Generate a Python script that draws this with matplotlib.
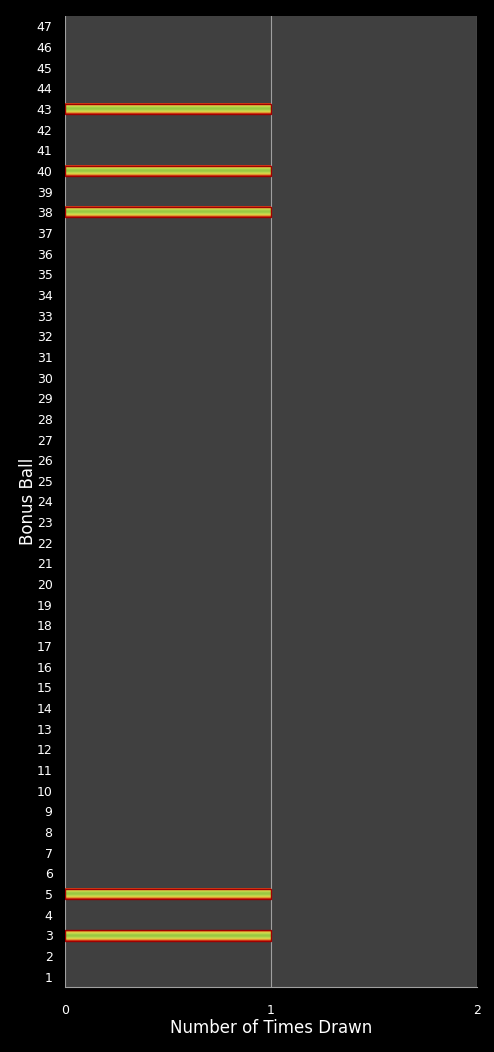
import matplotlib
matplotlib.use("Agg")
import matplotlib.pyplot as plt
from matplotlib.colors import LinearSegmentedColormap
import numpy as np

# bonus ball numbers 1..47 and how many times each was drawn
balls = list(range(1, 48))
drawn_balls = [3, 5, 38, 40, 43]
counts = [1 if b in drawn_balls else 0 for b in balls]
x_ticks = [0, 1, 2]

fig = plt.figure(figsize=(4.94, 10.52), dpi=100, facecolor="black")
ax = fig.add_axes([65 / 494, 1 - 987 / 1052, (477 - 65) / 494, (987 - 16) / 1052])
ax.set_facecolor("#404040")

bars = ax.barh(balls, counts, height=0.5, color="none",
               edgecolor="#a00000", linewidth=1.0, zorder=4)

# red edge -> yellow -> green centre, symmetric across the bar
cmap = LinearSegmentedColormap.from_list(
    "bar", ["#d01010", "#e0a030", "#dce050", "#a8d048", "#98c840"])
prof = np.linspace(-1, 1, 64)
grad = (1 - np.abs(prof)).reshape(-1, 1)
for bar in bars:
    if bar.get_width() == 0:
        bar.set_visible(False)  # no stray edge on empty balls
        continue
    x0, y0 = bar.get_x(), bar.get_y()
    ax.imshow(grad, cmap=cmap, aspect="auto", interpolation="bilinear",
              extent=(x0, x0 + bar.get_width(), y0, y0 + bar.get_height()),
              zorder=3)

ax.set_xlim(0, 2)
ax.set_ylim(0.5, 47.5)
ax.set_xticks(x_ticks)
ax.set_yticks(balls)
ax.xaxis.grid(True, color="#a0a0a0", linewidth=0.8)
ax.set_axisbelow(True)
for s in ["top", "left", "right"]:
    ax.spines[s].set_visible(False)
ax.spines["bottom"].set_color("#a0a0a0")
ax.tick_params(colors="white", labelsize=9, length=0)
ax.tick_params(axis="x", pad=12)
ax.tick_params(axis="y", pad=9)

ax.set_xlabel("Number of Times Drawn", color="white", fontsize=12, labelpad=2)
ax.set_ylabel("Bonus Ball", color="white", fontsize=12, labelpad=0)

fig.savefig("out.png", dpi=100, facecolor="black")
